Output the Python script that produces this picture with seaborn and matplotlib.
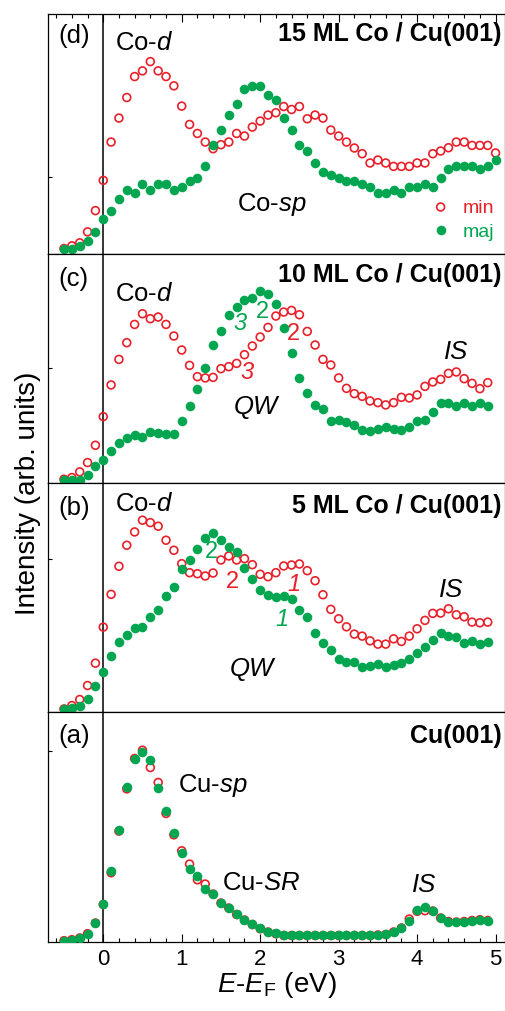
import numpy as np
import pandas as pd
import matplotlib
matplotlib.use("Agg")
import matplotlib.pyplot as plt
from matplotlib.ticker import MultipleLocator
import seaborn as sns

# ---------------- data ----------------
energy = np.round(np.arange(-0.5, 4.95, 0.1), 1)      # E - E_F (eV), panels a-c
energy_d = np.round(np.arange(-0.5, 5.05, 0.1), 1)    # panel d has one more point

# (d) 15 ML Co / Cu(001)
min_d = [5.0, 7.7, 10.7, 21.7, 43, 73.3, 111.7, 135.7, 156.3, 177.3, 183, 192.3, 183, 177.3,
         168, 147.7, 129.3, 120.3, 111.7, 105, 109, 111.7, 120.3, 117.7, 126.7, 132.7, 138.7,
         141, 147.3, 144.3, 147.3, 135, 138.7, 135.7, 123.7, 117.7, 111.7, 105.7, 100, 90.7,
         93.7, 90.7, 87.3, 87.3, 87.3, 90.7, 90.7, 100, 102.7, 106, 111.7, 111.7, 108.3, 108.3,
         108.3, 100.7]
maj_d = [4.3, 4.3, 7.7, 12.7, 21.7, 34.3, 43, 54.7, 64, 61, 70, 64, 70, 70, 64, 67, 73, 75.7,
         87.3, 108.3, 123.3, 138.7, 150.3, 165.3, 168, 168, 159.3, 153.7, 135.7, 123.3, 108.3,
         102.7, 90.7, 81.7, 79, 75.7, 73, 73, 70, 67, 61, 61, 64, 61, 67, 67, 70, 67, 75.7,
         84.3, 87.3, 87.3, 87.3, 84.3, 87.3, 94]

# (c) 10 ML Co / Cu(001)
min_c = [3.3, 5, 10.7, 20, 37.3, 66, 97.7, 123.3, 140, 158.3, 169, 164, 165.7, 158.3, 146.7,
         132.7, 117.3, 106, 104.7, 105.3, 114, 116, 119.3, 128, 136.7, 145.7, 155.3, 166.7,
         170.7, 172.3, 168, 151.3, 137.7, 123.3, 117.7, 104.7, 94.3, 89, 86.3, 81.7, 80, 77.7,
         80, 85.3, 84.7, 87.7, 96.3, 100.7, 103.3, 109.3, 110.7, 104, 99.3, 94, 100]
maj_c = [2.7, 2.7, 2.7, 7.3, 16.7, 22.3, 31.3, 39.7, 44.7, 48, 46, 50.3, 49.3, 48.7, 48.7, 61.3,
         77, 94, 114.3, 138, 151.7, 168, 176, 182.7, 184.7, 192, 189, 179, 154.3, 129.3, 104.7,
         90, 77.3, 74, 61.3, 62.7, 60.7, 57.7, 53, 51.7, 53.3, 55.3, 54, 52.3, 55.3, 61.7, 62.7,
         70.7, 80, 80, 77, 79.3, 76.3, 79.3, 77]

# (b) 5 ML Co / Cu(001)
min_b = [3.3, 6.7, 12.7, 26.7, 49, 85, 117.7, 145.7, 166.7, 180, 191.7, 189.3, 185.7, 171.7,
         161.7, 148.3, 139.3, 138.3, 136, 139, 152, 156, 152, 153.3, 147.3, 137.7, 135.3, 139.3,
         146, 147, 148, 141.3, 131.3, 117.3, 102.7, 93.3, 85.3, 78, 76, 71.3, 68, 68, 73.3, 70.7,
         76, 83.3, 91.7, 98.7, 99, 103.3, 97.3, 95.3, 90, 89.3, 90]
maj_b = [3.3, 4.3, 6.7, 13.3, 26, 40, 56, 70, 76.7, 84.3, 84.7, 95.3, 101.7, 116, 125, 143.3,
         152.3, 163.3, 174.3, 179, 172.3, 165, 160, 144, 132.7, 122.3, 117.3, 115, 116, 113.3,
         101.7, 95.3, 79, 69, 61.7, 53.3, 50.3, 50, 44.7, 45.7, 47.7, 45, 46.7, 48.7, 53.3, 58.7,
         64.7, 72, 79.3, 76, 74.7, 69, 70.7, 68, 70.3]

# (a) clean Cu(001)
min_a = [1.3, 2.3, 4, 8.3, 19, 37.5, 69.3, 111, 153.3, 183.7, 192, 174.7, 159.7, 128.7, 107.3,
         91.3, 78, 62.3, 58, 48, 39, 34, 27.5, 22, 17.5, 13.3, 10, 8.3, 6.5, 6.5, 6.5, 6.5, 6.5,
         6.5, 6.5, 6.5, 6.5, 6.5, 6.5, 6.5, 7, 7.5, 10, 14, 23, 30.7, 31.3, 31, 24, 20.5, 20,
         20.5, 21.5, 22.3, 21.5]
maj_a = [1.3, 2.3, 4, 8, 18.7, 38, 71.3, 112, 155.3, 183.7, 190.3, 182.3, 154, 131.3, 109.3,
         89.3, 73, 66.3, 52.7, 48, 39.3, 34, 28, 22, 18, 13.7, 10.3, 8.7, 7.3, 7.3, 7.3, 7, 7, 7,
         7, 7, 7, 7.3, 7.3, 7.3, 7.3, 8, 10, 13.7, 20.7, 32, 35.3, 31.3, 23.7, 20.3, 19.7, 20.3,
         21.3, 22.3, 21.3]

panel_letters = ["(d)", "(c)", "(b)", "(a)"]
panel_titles = ["15 ML Co / Cu(001)", "10 ML Co / Cu(001)", "5 ML Co / Cu(001)", "Cu(001)"]
panel_ymax = [240, 229.3, 229.3, 230]
panel_ytick = [77, 115, 153, 191]
spin_labels = ["min", "maj"]
x_ticks = [0, 1, 2, 3, 4, 5]

RED = "#E8202A"
GREEN = "#03A650"

# ---------------- style ----------------
sns.set_theme(style="ticks")
plt.rcParams["font.family"] = ["Liberation Sans", "DejaVu Sans"]
plt.rcParams["mathtext.fontset"] = "custom"
plt.rcParams["mathtext.rm"] = "Liberation Sans"
plt.rcParams["mathtext.it"] = "Liberation Sans:italic"
plt.rcParams["mathtext.bf"] = "Liberation Sans:bold"
plt.rcParams["axes.linewidth"] = 0.9
plt.rcParams["axes.edgecolor"] = "black"
plt.rcParams["text.color"] = "black"
plt.rcParams["axes.labelcolor"] = "black"
plt.rcParams["xtick.color"] = "black"
plt.rcParams["ytick.color"] = "black"

fig = plt.figure(figsize=(5.06, 10.12), dpi=100)

left, width = 0.0955, 0.9025
rects = [(left, 0.7485, width, 0.2367),
         (left, 0.5222, width, 0.2263),
         (left, 0.2952, width, 0.2270),
         (left, 0.0682, width, 0.2270)]

series = [(energy_d, min_d, maj_d), (energy, min_c, maj_c),
          (energy, min_b, maj_b), (energy, min_a, maj_a)]

letter_y = [219, 204.8, 205.3, 207]
title_y = [221, 209, 206.6, 207]

axes = []
for i, (rect, (ex, ymin_, ymaj_)) in enumerate(zip(rects, series)):
    ax = fig.add_axes(rect)
    axes.append(ax)
    df = pd.DataFrame({"E": ex, "min": ymin_, "maj": ymaj_})
    ax.axvline(0, color="black", lw=1.1, zorder=1)
    sns.scatterplot(data=df, x="E", y="min", ax=ax, s=32, facecolors="none",
                    edgecolor=RED, linewidth=1.2, zorder=3, label=spin_labels[0])
    sns.scatterplot(data=df, x="E", y="maj", ax=ax, s=48, color=GREEN,
                    edgecolor=GREEN, linewidth=0, zorder=4, label=spin_labels[1])
    ax.set_xlim(-0.70, 5.12)
    ax.set_ylim(0, panel_ymax[i])
    ax.set_xlabel("")
    ax.set_ylabel("")
    ax.set_yticks([panel_ytick[i]])
    ax.set_yticklabels([])
    ax.xaxis.set_major_locator(MultipleLocator(1))
    ax.xaxis.set_minor_locator(MultipleLocator(0.2))
    ax.tick_params(axis="y", which="both", direction="in", length=3, width=0.8,
                   left=True, right=False)
    ax.tick_params(axis="x", which="both", direction="in", width=0.8,
                   bottom=False, top=False, labelbottom=False)
    ax.tick_params(axis="x", which="major", length=5.5)
    ax.tick_params(axis="x", which="minor", length=3)
    ax.text(-0.575, letter_y[i], panel_letters[i], fontsize=18.5, ha="left", va="center")
    ax.text(5.08, title_y[i], panel_titles[i], fontsize=18, fontweight="bold",
            ha="right", va="center")
    if ax.get_legend() is not None:
        ax.get_legend().remove()

ax_d, ax_c, ax_b, ax_a = axes
ax_d.tick_params(axis="x", which="both", top=True)
ax_a.tick_params(axis="x", which="both", bottom=True, labelbottom=True, labelsize=16, pad=4)
ax_a.set_xticks(x_ticks)

# ---- annotations ----
fs = 18.5
ax_d.text(0.15, 211.7, "Co-$d$", fontsize=fs, ha="left", va="center")
ax_d.text(1.70, 50, "Co-$sp$", fontsize=fs, ha="left", va="center")

ax_c.text(0.15, 190, "Co-$d$", fontsize=fs, ha="left", va="center")
ax_c.text(1.744, 160.3, "3", fontsize=17, style="italic", color=GREEN, ha="center", va="center")
ax_c.text(2.028, 171.3, "2", fontsize=17, color=GREEN, ha="center", va="center")
ax_c.text(2.43, 149.3, "2", fontsize=17, color=RED, ha="center", va="center")
ax_c.text(1.837, 111.3, "3", fontsize=17, style="italic", color=RED, ha="center", va="center")
ax_c.text(1.95, 76.3, "QW", fontsize=fs, style="italic", ha="center", va="center")
ax_c.text(4.50, 131.3, "IS", fontsize=fs, style="italic", ha="center", va="center")

ax_b.text(0.15, 209.3, "Co-$d$", fontsize=fs, ha="left", va="center")
ax_b.text(1.373, 161.3, "2", fontsize=17, color=GREEN, ha="center", va="center")
ax_b.text(1.646, 131.3, "2", fontsize=17, color=RED, ha="center", va="center")
ax_b.text(2.43, 128.3, "1", fontsize=17, style="italic", color=RED, ha="center", va="center")
ax_b.text(2.277, 93.3, "1", fontsize=17, style="italic", color=GREEN, ha="center", va="center")
ax_b.text(1.894, 44.3, "QW", fontsize=fs, style="italic", ha="center", va="center")
ax_b.text(4.436, 123.3, "IS", fontsize=fs, style="italic", ha="center", va="center")

ax_a.text(0.95, 158, "Cu-$sp$", fontsize=fs, ha="left", va="center")
ax_a.text(1.51, 60.5, "Cu-$SR$", fontsize=fs, ha="left", va="center")
ax_a.text(4.09, 58, "IS", fontsize=fs, style="italic", ha="center", va="center")

# legend in the top panel
handles = [ax_d.collections[0], ax_d.collections[1]]
leg = ax_d.legend(handles, spin_labels, loc="center left", bbox_to_anchor=(0.842, 0.144),
                  frameon=False, fontsize=14, handlelength=0.8, handletextpad=0.75,
                  labelspacing=0.3, borderpad=0, borderaxespad=0,
                  labelcolor=[RED, GREEN])

ax_a.set_xlabel("$E$-$E$$_\\mathrm{F}$ (eV)", fontsize=20, labelpad=0)
fig.text(0.056, 0.513, "Intensity (arb. units)", rotation=90, fontsize=20,
         ha="center", va="center")

fig.savefig("out.png", dpi=100)
